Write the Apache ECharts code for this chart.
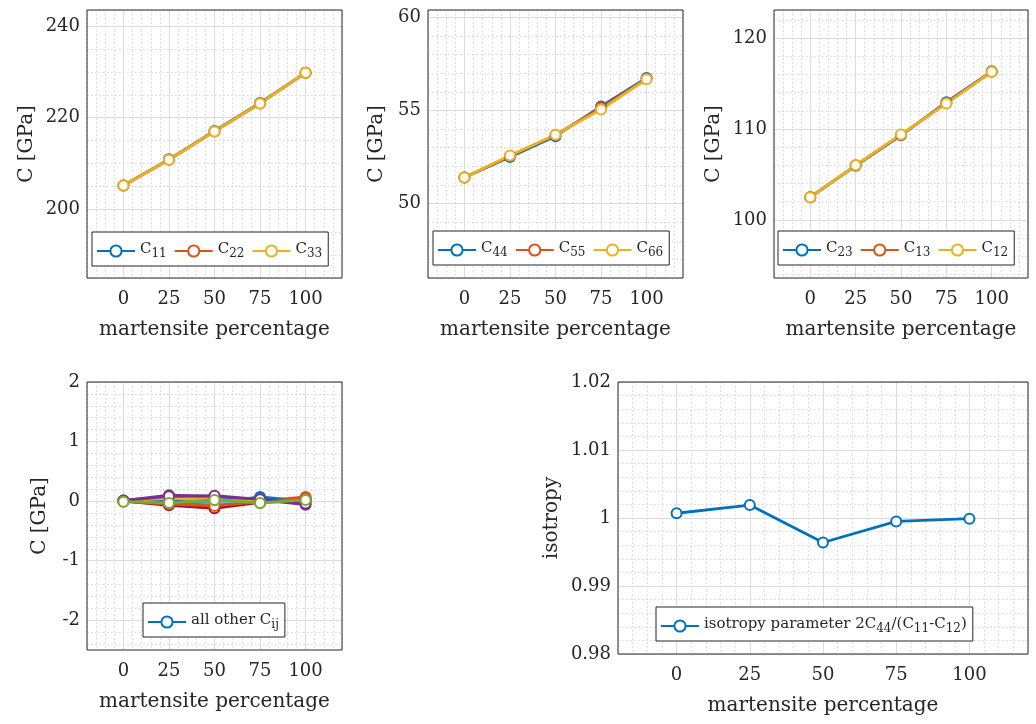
<!DOCTYPE html>
<html><head><meta charset="utf-8">
<script src="https://cdn.jsdelivr.net/npm/echarts@6/dist/echarts.min.js"></script>
<style>html,body{margin:0;padding:0;background:#fff}#c{width:1036px;height:724px}</style>
</head><body><div id="c"></div>
<script>
// ---------- data ----------
const percent = [0, 25, 50, 75, 100];
const xTickLabels = [0, 25, 50, 75, 100];

const C11 = [205.2, 210.9, 217.1, 223.2, 229.8];
const C22 = [205.2, 210.8, 217.0, 223.1, 229.8];
const C33 = [205.2, 210.8, 217.0, 223.1, 229.8];

const C44 = [51.40, 52.50, 53.62, 55.22, 56.75];
const C55 = [51.40, 52.55, 53.68, 55.15, 56.70];
const C66 = [51.40, 52.58, 53.70, 55.05, 56.68];

const C23 = [102.50, 105.95, 109.30, 112.95, 116.35];
const C13 = [102.50, 106.00, 109.35, 112.85, 116.30];
const C12 = [102.50, 106.00, 109.40, 112.80, 116.30];

// all other C_ij (off-block entries, near zero)
const other01 = [0.00, 0.02, -0.03, 0.07, 0.00];
const other02 = [0.00, -0.03, -0.04, 0.00, 0.07];
const other03 = [0.00, 0.07, 0.03, -0.02, 0.00];
const other04 = [0.01, 0.10, 0.08, 0.02, -0.06];
const other05 = [-0.01, -0.03, 0.02, -0.03, 0.02];
const other06 = [0.00, 0.02, -0.03, 0.03, 0.01];
const other07 = [0.00, -0.07, -0.12, -0.02, 0.03];
const other08 = [0.00, -0.01, 0.01, 0.04, 0.01];
const other09 = [0.00, -0.05, -0.08, -0.01, 0.05];
const other10 = [0.00, 0.05, 0.01, 0.00, -0.01];
const other11 = [0.01, 0.08, 0.09, 0.03, -0.04];
const other12 = [-0.01, -0.03, 0.02, -0.03, 0.02];

const isotropy = [1.0007, 1.0019, 0.9964, 0.9995, 0.9999];

// ---------- style ----------
const FONT = 'DejaVu Serif';
const TXT = '#262626';
const MAJOR = '#dcdcdc';
const MINOR = '#d6d6d6';
const NONE = 'rgba(0,0,0,0)';
const MC = ['#0072BD', '#D95319', '#EDB120', '#7E2F8E', '#77AC30', '#4DBEEE', '#A2142F'];

const xCfg = { min: -20, max: 120, fine: 5, minor: 5, major: 25 };

const panels = [
  { rect: { left: 87, top: 10, width: 255, height: 268 },
    y: { min: 185, max: 243.5, fine: 5, minor: 5, major: 20 },
    yName: 'C [GPa]', yGap: 50,
    legend: { left: 92, top: 232 },
    series: [['C11', C11, MC[0]], ['C22', C22, MC[1]], ['C33', C33, MC[2]]] },
  { rect: { left: 428, top: 10, width: 255, height: 268 },
    y: { min: 46, max: 60.4, fine: 1, minor: 1, major: 5 },
    yName: 'C [GPa]', yGap: 41,
    legend: { left: 433, top: 231 },
    series: [['C44', C44, MC[0]], ['C55', C55, MC[1]], ['C66', C66, MC[2]]] },
  { rect: { left: 774, top: 10, width: 254, height: 268 },
    y: { min: 93.6, max: 123.1, fine: 0.4, minor: 2, major: 10 },
    yName: 'C [GPa]', yGap: 50,
    legend: { left: 778, top: 231 },
    series: [['C23', C23, MC[0]], ['C13', C13, MC[1]], ['C12', C12, MC[2]]] },
  { rect: { left: 87, top: 382, width: 255, height: 268 },
    y: { min: -2.5, max: 2, fine: 0.1, minor: 0.2, major: 1 },
    yName: 'C [GPa]', yGap: 37,
    legend: { left: 143, top: 603 },
    series: [other01, other02, other03, other04, other05, other06, other07,
             other08, other09, other10, other11, other12]
             .map((d, i) => ['all other Cij', d, MC[i % 7]]) },
  { rect: { left: 618, top: 382, width: 410, height: 272 },
    y: { min: 0.98, max: 1.02, fine: 0.002, minor: 0.002, major: 0.01 },
    yName: 'isotropy', yGap: 56,
    legend: { left: 656, top: 607 },
    series: [['isotropy parameter', isotropy, MC[0]]] }
];

const legendText = {
  'C11': '{m|C}{s|11}', 'C22': '{m|C}{s|22}', 'C33': '{m|C}{s|33}',
  'C44': '{m|C}{s|44}', 'C55': '{m|C}{s|55}', 'C66': '{m|C}{s|66}',
  'C23': '{m|C}{s|23}', 'C13': '{m|C}{s|13}', 'C12': '{m|C}{s|12}',
  'all other Cij': '{m|all other C}{s|ij}',
  'isotropy parameter': '{m|isotropy parameter 2C}{s|44}{m|/(C}{s|11}{m|-C}{s|12}{m|)}'
};

// ---------- helpers ----------
function isMult(v, step) { const r = v / step; return Math.abs(r - Math.round(r)) < 1e-6; }
function pattern(cfg, step, color) {
  const period = Math.round(cfg.major / cfg.fine);
  const arr = [];
  for (let i = 0; i < period; i++) {
    const v = cfg.min + i * cfg.fine;
    arr.push(isMult(v, step) ? color : NONE);
  }
  return arr;
}
function fmtNum(v) { return String(+v.toFixed(6)); }

function axisPair(kind, gi, cfg, extra) {
  const base = { type: 'value', gridIndex: gi, min: cfg.min, max: cfg.max, interval: cfg.fine,
    axisLine: { show: false }, axisTick: { show: false } };
  const dotted = Object.assign({}, base, {
    position: kind === 'x' ? 'top' : 'right',
    axisLabel: { show: false },
    splitLine: { show: true, lineStyle: { type: [1.5, 2.5], width: 1, color: pattern(cfg, cfg.minor, MINOR) } }
  });
  const solid = Object.assign({}, base, {
    position: kind === 'x' ? 'bottom' : 'left',
    splitLine: { show: true, lineStyle: { type: 'solid', width: 1, color: pattern(cfg, cfg.major, MAJOR) } }
  }, extra);
  return [dotted, solid];
}

const grid = [], xAxis = [], yAxis = [], series = [], legend = [];
panels.forEach((p, gi) => {
  grid.push(Object.assign({ show: true, borderColor: '#262626', borderWidth: 1, backgroundColor: NONE, z: 2 }, p.rect));
  xAxis.push(...axisPair('x', gi, xCfg, {
    name: 'martensite percentage', nameLocation: 'middle', nameGap: 42,
    nameTextStyle: { fontFamily: FONT, fontSize: 20, color: TXT },
    axisLabel: { show: true, margin: 12, fontFamily: FONT, fontSize: 18, color: TXT,
      formatter: v => (isMult(v, 25) && xTickLabels.indexOf(Math.round(v)) >= 0) ? String(Math.round(v)) : '' }
  }));
  yAxis.push(...axisPair('y', gi, p.y, {
    name: p.yName, nameLocation: 'middle', nameGap: p.yGap,
    nameTextStyle: { fontFamily: FONT, fontSize: 20, color: TXT },
    axisLabel: { show: true, margin: 7, fontFamily: FONT, fontSize: 18, color: TXT,
      formatter: v => isMult(v, p.y.major) ? fmtNum(v) : '' }
  }));
  const names = [];
  p.series.forEach(([name, vals, color]) => {
    if (names.indexOf(name) < 0) names.push(name);
    series.push({
      type: 'line', name: name, xAxisIndex: 2 * gi + 1, yAxisIndex: 2 * gi + 1,
      data: percent.map((x, i) => [x, vals[i]]),
      symbol: 'emptyCircle', symbolSize: 10, showSymbol: true,
      lineStyle: { width: 2.8, color: color },
      itemStyle: { color: color, borderWidth: 2.2 },
      emphasis: { disabled: true }, silent: true
    });
  });
  legend.push({
    show: true, left: p.legend.left, top: p.legend.top, orient: 'horizontal',
    data: names, selectedMode: false,
    backgroundColor: '#fff', borderColor: '#262626', borderWidth: 1, borderRadius: 0,
    padding: [6, 6, 6, 4], itemGap: 7, itemWidth: 38, itemHeight: 14,
    formatter: n => legendText[n] || n,
    textStyle: { fontFamily: FONT, color: TXT,
      rich: {
        m: { fontFamily: FONT, fontSize: 15, color: TXT, lineHeight: 18, verticalAlign: 'top' },
        s: { fontFamily: FONT, fontSize: 12, color: TXT, lineHeight: 14, verticalAlign: 'bottom', padding: [10, 0, 0, 0] }
      } }
  });
});

const chart = echarts.init(document.getElementById('c'), null, { renderer: 'canvas' });
chart.setOption({
  backgroundColor: '#fff', animation: false,
  grid, xAxis, yAxis, series, legend
});
</script>
</body></html>
